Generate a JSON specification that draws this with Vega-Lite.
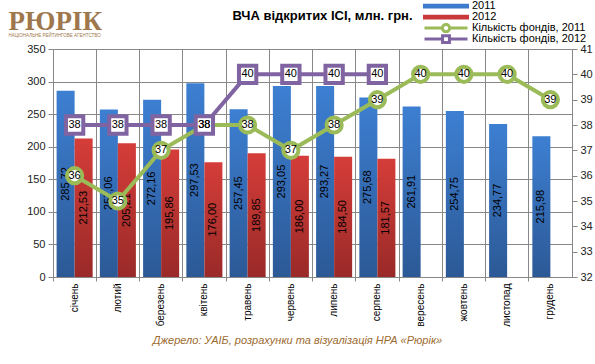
{
  "$schema": "https://vega.github.io/schema/vega-lite/v6.json",
  "autosize": {"type": "none"},
  "width": 519,
  "height": 228,
  "padding": {"left": 53, "top": 49, "right": 23, "bottom": 87},
  "background": "white",
  "title": {"text": "ВЧА відкритих ІСІ, млн. грн.", "font": "Liberation Sans", "fontSize": 13, "fontWeight": "bold", "color": "#000", "anchor": "middle", "dx": 10, "offset": -31.5, "baseline": "alphabetic"},
  "config": {
    "view": {"stroke": null},
    "locale": {"number": {"decimal": ",", "thousands": " ", "grouping": [3], "currency": ["", ""]}},
    "axis": {"labelFont": "Liberation Sans", "labelFontSize": 11, "labelColor": "#222", "domainColor": "#888", "tickColor": "#888", "gridColor": "#888", "gridOpacity": 1}
  },
  "datasets": {
    "bars": [
      {"month": "січень", "series": "2011", "value": 285.72},
      {"month": "лютий", "series": "2011", "value": 257.06},
      {"month": "березень", "series": "2011", "value": 272.16},
      {"month": "квітень", "series": "2011", "value": 297.53},
      {"month": "травень", "series": "2011", "value": 257.45},
      {"month": "червень", "series": "2011", "value": 293.05},
      {"month": "липень", "series": "2011", "value": 293.27},
      {"month": "серпень", "series": "2011", "value": 275.68},
      {"month": "вересень", "series": "2011", "value": 261.91},
      {"month": "жовтень", "series": "2011", "value": 254.75},
      {"month": "листопад", "series": "2011", "value": 234.77},
      {"month": "грудень", "series": "2011", "value": 215.98},
      {"month": "січень", "series": "2012", "value": 212.53},
      {"month": "лютий", "series": "2012", "value": 205.21},
      {"month": "березень", "series": "2012", "value": 195.86},
      {"month": "квітень", "series": "2012", "value": 176.00},
      {"month": "травень", "series": "2012", "value": 189.85},
      {"month": "червень", "series": "2012", "value": 186.00},
      {"month": "липень", "series": "2012", "value": 184.50},
      {"month": "серпень", "series": "2012", "value": 181.57}
    ],
    "counts": [
      {"month": "січень", "series": "Кількість фондів, 2011", "value": 36},
      {"month": "лютий", "series": "Кількість фондів, 2011", "value": 35},
      {"month": "березень", "series": "Кількість фондів, 2011", "value": 37},
      {"month": "квітень", "series": "Кількість фондів, 2011", "value": 38},
      {"month": "травень", "series": "Кількість фондів, 2011", "value": 38},
      {"month": "червень", "series": "Кількість фондів, 2011", "value": 37},
      {"month": "липень", "series": "Кількість фондів, 2011", "value": 38},
      {"month": "серпень", "series": "Кількість фондів, 2011", "value": 39},
      {"month": "вересень", "series": "Кількість фондів, 2011", "value": 40},
      {"month": "жовтень", "series": "Кількість фондів, 2011", "value": 40},
      {"month": "листопад", "series": "Кількість фондів, 2011", "value": 40},
      {"month": "грудень", "series": "Кількість фондів, 2011", "value": 39},
      {"month": "січень", "series": "Кількість фондів, 2012", "value": 38},
      {"month": "лютий", "series": "Кількість фондів, 2012", "value": 38},
      {"month": "березень", "series": "Кількість фондів, 2012", "value": 38},
      {"month": "квітень", "series": "Кількість фондів, 2012", "value": 38},
      {"month": "травень", "series": "Кількість фондів, 2012", "value": 40},
      {"month": "червень", "series": "Кількість фондів, 2012", "value": 40},
      {"month": "липень", "series": "Кількість фондів, 2012", "value": 40},
      {"month": "серпень", "series": "Кількість фондів, 2012", "value": 40}
    ]
  },
  "resolve": {"scale": {"y": "independent"}},
  "layer": [
    {
      "data": {"name": "bars"},
      "transform": [{"filter": "datum.series === '2011'"}],
      "mark": {"type": "bar", "color": {"gradient": "linear", "x1": 0, "y1": 0, "x2": 0, "y2": 1, "stops": [{"offset": 0, "color": "#3d7fd2"}, {"offset": 1, "color": "#2c5996"}]}},
      "encoding": {
        "x": {"field": "month", "type": "nominal", "sort": null, "scale": {"domain": ["січень", "лютий", "березень", "квітень", "травень", "червень", "липень", "серпень", "вересень", "жовтень", "листопад", "грудень"], "paddingInner": 0, "paddingOuter": 0},
          "axis": {"title": "Джерело: УАІБ, розрахунки та візуалізація НРА «Рюрік»", "titleFont": "Liberation Sans", "titleFontSize": 11, "titleFontStyle": "italic", "titleFontWeight": "normal", "titleColor": "#9c6b30", "titleX": 244, "titleY": 66, "titleAlign": "center", "titleBaseline": "alphabetic", "bandPosition": 0, "grid": true, "ticks": true, "tickSize": 4, "labelAngle": 270, "labelPadding": 2, "labelFontSize": 10, "labelColor": "#000", "labelAlign": "right", "labelBaseline": "middle"}},
        "xOffset": {"field": "series", "type": "nominal", "scale": {"domain": ["2011", "2012"], "paddingOuter": 0.2, "paddingInner": 0}},
        "y": {"field": "value", "type": "quantitative", "scale": {"domain": [0, 350], "nice": false},
          "axis": {"values": [0, 50, 100, 150, 200, 250, 300, 350], "grid": true, "tickSize": 5, "labelPadding": 3, "domain": true, "title": "РЮРІК", "titleAngle": 0, "titleX": -45, "titleY": -20, "titleAlign": "left", "titleBaseline": "alphabetic", "titleFont": "Liberation Serif", "titleFontSize": 27, "titleFontWeight": "bold", "titleColor": "#9e774c"}}
      }
    },
    {
      "data": {"name": "bars"},
      "transform": [{"filter": "datum.series === '2012'"}],
      "mark": {"type": "bar", "color": {"gradient": "linear", "x1": 0, "y1": 0, "x2": 0, "y2": 1, "stops": [{"offset": 0, "color": "#d53d39"}, {"offset": 1, "color": "#992a28"}]}},
      "encoding": {
        "x": {"field": "month", "type": "nominal", "sort": null},
        "xOffset": {"field": "series", "type": "nominal"},
        "y": {"field": "value", "type": "quantitative", "scale": {"domain": [0, 350], "nice": false}, "axis": null}
      }
    },
    {
      "data": {"name": "bars"},
      "mark": {"type": "text", "angle": 270, "align": "center", "baseline": "middle", "font": "Liberation Sans", "fontSize": 11, "color": "#000"},
      "encoding": {
        "x": {"field": "month", "type": "nominal", "sort": null},
        "xOffset": {"field": "series", "type": "nominal"},
        "y": {"field": "value", "type": "quantitative", "scale": {"domain": [0, 700], "nice": false}, "axis": null},
        "text": {"field": "value", "type": "quantitative", "format": ".2f"}
      }
    },
    {
      "data": {"name": "counts"},
      "mark": {"type": "line", "strokeWidth": 4},
      "encoding": {
        "x": {"field": "month", "type": "nominal", "sort": null},
        "y": {"field": "value", "type": "quantitative", "scale": {"domain": [32, 41], "nice": false},
          "axis": {"orient": "right", "values": [32, 33, 34, 35, 36, 37, 38, 39, 40, 41], "grid": false, "tickSize": 5, "labelPadding": 3, "title": "НАЦІОНАЛЬНЕ РЕЙТИНГОВЕ АГЕНТСТВО", "titleAngle": 0, "titleX": -564, "titleY": -13, "titleAlign": "left", "titleBaseline": "alphabetic", "titleFont": "Liberation Sans", "titleFontSize": 4.5, "titleFontWeight": "normal", "titleColor": "#9e774c"}},
        "stroke": {"field": "series", "type": "nominal",
          "scale": {"domain": ["2011", "2012", "Кількість фондів, 2011", "Кількість фондів, 2012"], "range": ["#3d7bcc", "#c9383a", "#9bbb59", "#8064a2"]},
          "legend": {"orient": "none", "legendX": 370, "legendY": -48, "title": null, "padding": 0, "rowPadding": -1.8, "clipHeight": 10.2, "symbolSize": 1849, "symbolStrokeWidth": 3, "symbolFillColor": "white",
            "symbolType": {"expr": "(datum.value === '2011' || datum.value === '2012') ? 'M-1,-0.04H1V0.04H-1Z' : (datum.value === 'Кількість фондів, 2011' ? 'M-1,0H-0.17M0.17,0H1M0.17,0A0.17,0.17 0 1 1 -0.17,0A0.17,0.17 0 1 1 0.17,0Z' : 'M-1,0H-0.16M0.16,0H1M-0.16,-0.16H0.16V0.16H-0.16Z')"},
            "labelFont": "Liberation Sans", "labelFontSize": 11, "labelColor": "#000", "labelOffset": 3}}
      }
    },
    {
      "data": {"name": "counts"},
      "transform": [{"filter": "datum.series === 'Кількість фондів, 2011'"}],
      "mark": {"type": "point", "shape": "circle", "filled": true, "fill": "white", "stroke": "#9bbb59", "strokeWidth": 4, "size": 230, "opacity": 1},
      "encoding": {
        "x": {"field": "month", "type": "nominal", "sort": null},
        "y": {"field": "value", "type": "quantitative", "scale": {"domain": [32, 41], "nice": false}, "axis": null}
      }
    },
    {
      "data": {"name": "counts"},
      "transform": [{"filter": "datum.series === 'Кількість фондів, 2012'"}],
      "mark": {"type": "point", "shape": "square", "filled": true, "fill": "white", "stroke": "#8064a2", "strokeWidth": 4, "size": 300, "opacity": 1},
      "encoding": {
        "x": {"field": "month", "type": "nominal", "sort": null},
        "y": {"field": "value", "type": "quantitative", "scale": {"domain": [32, 41], "nice": false}, "axis": null}
      }
    },
    {
      "data": {"name": "counts"},
      "mark": {"type": "text", "align": "center", "baseline": "middle", "font": "Liberation Sans", "fontSize": 11, "color": "#000"},
      "encoding": {
        "x": {"field": "month", "type": "nominal", "sort": null},
        "y": {"field": "value", "type": "quantitative", "scale": {"domain": [32, 41], "nice": false}, "axis": null},
        "text": {"field": "value", "type": "quantitative"}
      }
    }
  ]
}
